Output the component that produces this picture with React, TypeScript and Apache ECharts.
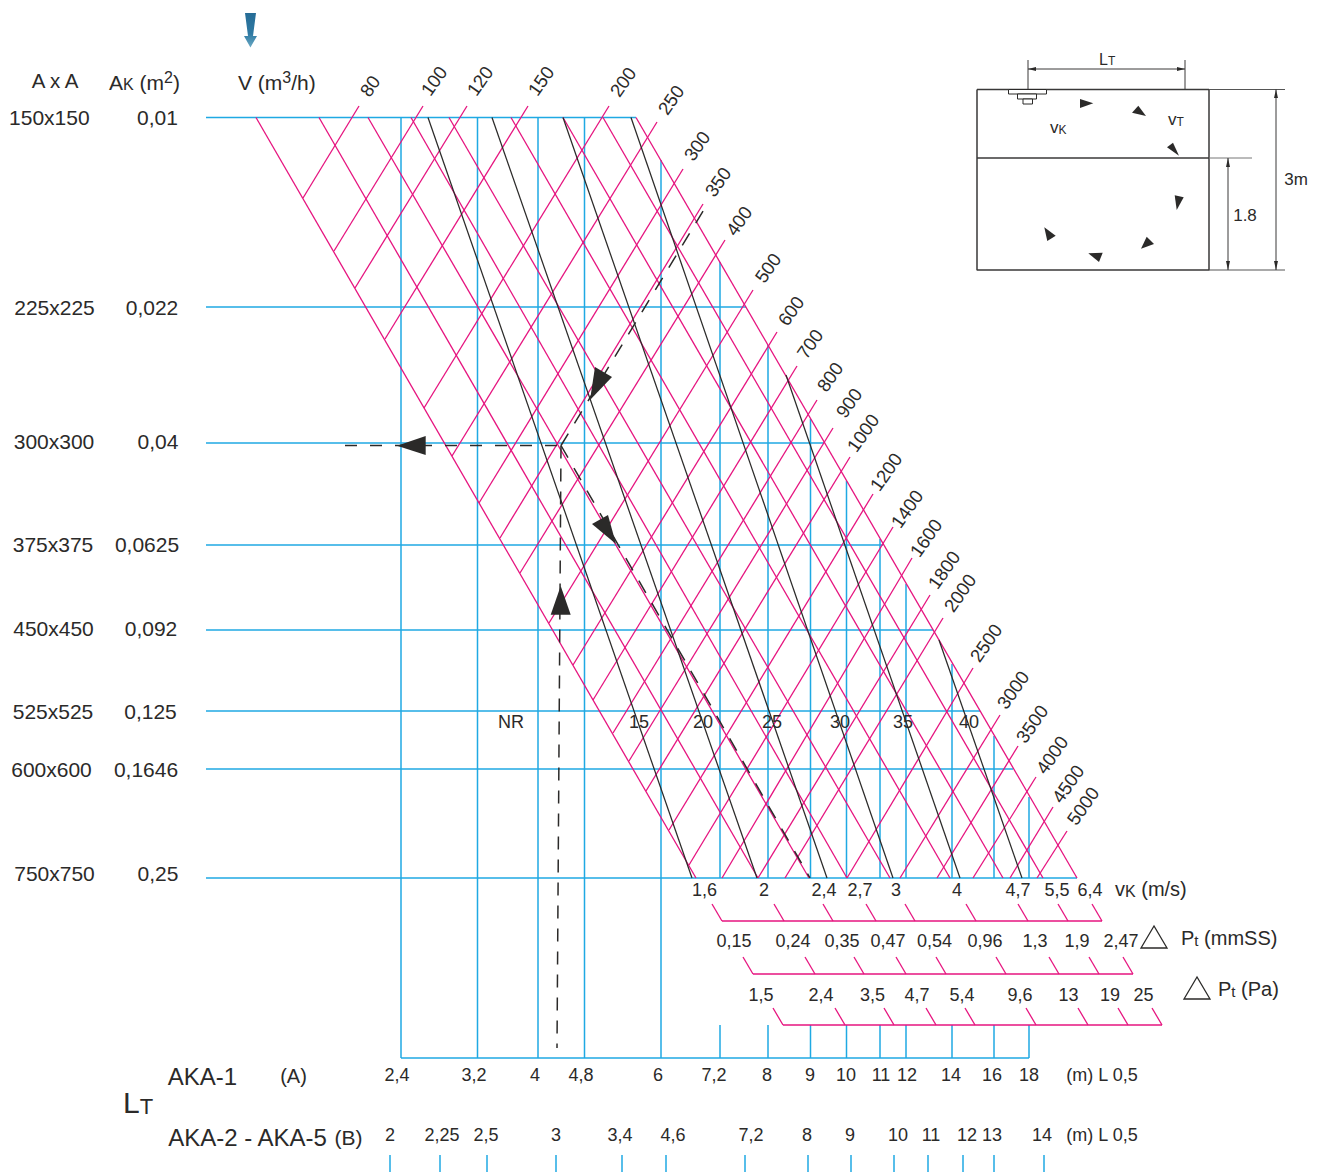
import React, { useEffect, useRef } from "react";
import * as echarts from "echarts";

// ---------- categories and tick labels ----------
const ductSizes = ["150x150", "225x225", "300x300", "375x375", "450x450", "525x525", "600x600", "750x750"];
const ductAreas = ["0,01", "0,022", "0,04", "0,0625", "0,092", "0,125", "0,1646", "0,25"];
const flowLabels = ["80", "100", "120", "150", "200", "250", "300", "350", "400", "500", "600", "700", "800", "900", "1000", "1200", "1400", "1600", "1800", "2000", "2500", "3000", "3500", "4000", "4500", "5000"];
const velocityLabels = ["1,6", "2", "2,4", "2,7", "3", "4", "4,7", "5,5", "6,4"];
const pressureMmLabels = ["0,15", "0,24", "0,35", "0,47", "0,54", "0,96", "1,3", "1,9", "2,47"];
const pressurePaLabels = ["1,5", "2,4", "3,5", "4,7", "5,4", "9,6", "13", "19", "25"];
const throwALabels = ["2,4", "3,2", "4", "4,8", "6", "7,2", "8", "9", "10", "11", "12", "14", "16", "18"];
const throwBLabels = ["2", "2,25", "2,5", "3", "3,4", "4,6", "7,2", "8", "9", "10", "11", "12", "13", "14"];
const noiseLabels = ["NR", "15", "20", "25", "30", "35", "40"];

// ---------- values, on the chart's two axes ----------
const levelY = [117.5, 307, 443, 545, 630, 711, 769, 878];
const levelEndX = [636, 746, 824, 883, 933, 980, 1013, 1077];
const velocityTopX = [256, 319, 368, 411, 449, 511, 563, 603, 636];
const velocityBottomX = [696, 758, 809, 847, 890, 950, 1003, 1043, 1077];
const flowTopX = [359, 423, 467, 528, 609, 657, 683, 703, 725, 753, 777, 797, 817, 833, 850, 873, 893, 912, 930, 943, 973, 1000, 1018, 1036, 1053, 1067];
const flowTopY = [106, 106, 106, 106, 106, 122, 169, 204, 240, 290, 332, 366, 400, 428, 457, 494, 527, 558, 595, 618, 668, 715, 746, 777, 807, 831];
const flowLowX = [303, 334, 355, 385, 424, 452, 479, 500, 520, 549, 573, 593, 613, 629, 646, 669, 689, 722, 758, 785, 847, 900, 937, 973, 1010, 1037];
const flowLowY = [198, 251, 288, 339, 408, 456, 503, 538, 573, 623, 665, 700, 733, 761, 791, 830, 865, 878, 878, 878, 878, 878, 878, 878, 878, 878];
const throwAX = [401, 477.5, 538, 584.5, 661, 720, 768, 810.5, 846.5, 880, 906, 952, 994, 1029];
const throwATopY = [117.5, 117.5, 117.5, 117.5, 160, 262, 345, 419, 481, 539, 584, 664, 736, 797];
const throwBX = [390, 440, 487, 556, 622, 666, 745, 808, 851, 894, 928, 963, 994, 1044];
const velocityTickX = [722, 784, 833, 876, 915, 976, 1028, 1068, 1102];
const pressureMmTickX = [753, 815, 864, 906, 946, 1006, 1059, 1099, 1133];
const pressurePaTickX = [783, 845, 894, 936, 975, 1036, 1088, 1128, 1162];
const noiseTopX = [428, 492, 563, 631, 786, 939];
const noiseTopY = [117.5, 117.5, 117.5, 117.5, 375, 640];
const noiseBottomX = [692, 757, 827, 893, 960, 1022];
const exampleFlowPath = [[561, 445.5], [708, 203]];
const exampleVelocityPath = [[561, 445.5], [810, 878]];
const exampleAreaPath = [[345, 445.5], [561, 445.5]];
const exampleThrowPath = [[561, 445.5], [557, 1048]];

const PINK = "#e6147f";
const BLUE = "#1fa9e3";
const INK = "#2b2a29";
const FONT = '"Liberation Sans", Arial, sans-serif';

const line = (points: number[][], color: string, width: number, dash?: number[]) => ({
  type: "line",
  data: points,
  symbol: "none",
  silent: true,
  animation: false,
  lineStyle: { color, width, type: dash || "solid", cap: "butt" },
  z: color === BLUE ? 1 : color === PINK ? 2 : 3,
});

const buildSeries = () => {
  const s: any[] = [];
  // blue area levels
  levelY.forEach((y, i) => s.push(line([[206, y], [levelEndX[i], y]], BLUE, 1.5)));
  // blue throw verticals
  throwAX.forEach((x, i) => {
    if (i < 5) s.push(line([[x, throwATopY[i]], [x, 1058]], BLUE, 1.5));
    else {
      s.push(line([[x, throwATopY[i]], [x, 878]], BLUE, 1.5));
      s.push(line([[x, 1025], [x, 1058]], BLUE, 1.5));
    }
  });
  s.push(line([[401, 1058], [1029, 1058]], BLUE, 1.5));
  throwBX.forEach((x) => s.push(line([[x, 1155], [x, 1172]], BLUE, 1.5)));
  // pink velocity lines
  velocityTopX.forEach((x, i) => s.push(line([[x, 117.5], [velocityBottomX[i], 878]], PINK, 1.3)));
  // pink flow lines
  flowTopX.forEach((x, i) => s.push(line([[flowLowX[i], flowLowY[i]], [x, flowTopY[i]]], PINK, 1.3)));
  // pink scales
  s.push(line([[722, 921], [1102, 921]], PINK, 1.4));
  velocityTickX.forEach((x) => s.push(line([[x, 921], [x - 10, 904]], PINK, 1.3)));
  s.push(line([[753, 974], [1133, 974]], PINK, 1.4));
  pressureMmTickX.forEach((x) => s.push(line([[x, 974], [x - 10, 957]], PINK, 1.3)));
  s.push(line([[783, 1025], [1162, 1025]], PINK, 1.4));
  pressurePaTickX.forEach((x) => s.push(line([[x, 1025], [x - 10, 1008]], PINK, 1.3)));
  // noise curves
  noiseTopX.forEach((x, i) => s.push(line([[x, noiseTopY[i]], [noiseBottomX[i], 878]], INK, 1.25)));
  // worked example
  s.push(line(exampleAreaPath, INK, 1.5, [12, 13]));
  s.push(line(exampleThrowPath, INK, 1.5, [13, 10]));
  s.push(line(exampleFlowPath, INK, 1.5, [14, 12]));
  s.push(line(exampleVelocityPath, INK, 1.5, [14, 12]));
  // room sketch
  const S = "#3a3938";
  s.push(line([[977, 89.5], [1209, 89.5], [1209, 270], [977, 270], [977, 89.5]], S, 1.5));
  s.push(line([[977, 158], [1209, 158]], S, 1.5));
  s.push(line([[1209, 158], [1252, 158]], "#777", 1));
  s.push(line([[1209, 89.5], [1285, 89.5]], "#555", 1));
  s.push(line([[1209, 270], [1285, 270]], "#555", 1));
  s.push(line([[1276, 89.5], [1276, 270]], S, 1));
  s.push(line([[1228, 158], [1228, 270]], S, 1));
  s.push(line([[1028, 60], [1028, 89]], S, 1));
  s.push(line([[1185, 60], [1185, 89]], S, 1));
  s.push(line([[1028, 69], [1185, 69]], S, 1));
  return s;
};

const txt = (text: string, x: number, y: number, size = 18, extra: any = {}) => ({
  type: "text",
  x,
  y,
  z: 10,
  silent: true,
  style: { text, fill: INK, font: `${size}px ${FONT}`, align: "center", verticalAlign: "middle", ...extra },
});

const sub = (text: string, x: number, y: number, big: number, small: number) => ({
  type: "text",
  x,
  y,
  z: 10,
  silent: true,
  style: {
    text,
    align: "left",
    verticalAlign: "middle",
    fill: INK,
    rich: {
      a: { font: `${big}px ${FONT}`, fill: INK, verticalAlign: "bottom", lineHeight: big + 2 },
      s: { font: `${small}px ${FONT}`, fill: INK, verticalAlign: "bottom", lineHeight: big + 2 },
      u: { font: `${small}px ${FONT}`, fill: INK, verticalAlign: "top", lineHeight: small },
    },
  },
});

const poly = (points: number[][], fill: any = INK) => ({
  type: "polygon",
  z: 9,
  silent: true,
  shape: { points },
  style: { fill },
});

const triOutline = (points: number[][]) => ({
  type: "polygon",
  z: 9,
  silent: true,
  shape: { points },
  style: { fill: "none", stroke: INK, lineWidth: 1.3 },
});

const box = (x: number, y: number, width: number, height: number) => ({
  type: "rect",
  z: 9,
  silent: true,
  shape: { x, y, width, height },
  style: { fill: "#fff", stroke: INK, lineWidth: 1 },
});

const sizeLabelPos = [[49.3, 117.3], [54.5, 307], [54, 441.5], [53, 544.7], [53.5, 628.3], [53, 711.7], [51.5, 769.7], [54.5, 873]];
const areaLabelPos = [[157.5, 117.3], [152, 307], [158, 441.5], [147, 544.7], [151, 628.3], [150.5, 711.7], [146, 769.7], [158, 873]];
const flowLabelPos = [[370, 86], [434, 81], [480, 81], [541, 81], [623, 82], [671, 100], [697, 146], [718, 182], [739, 221], [768, 268], [791, 311], [810, 344], [830, 377], [849, 403], [863, 433], [886, 472], [907, 509], [926, 538], [944, 570], [960, 593], [986, 643], [1013, 690], [1032, 724], [1052, 755], [1068, 784], [1083, 806]];
const velocityLabelX = [704.5, 764, 824, 860, 896, 957, 1018, 1057, 1090];
const mmLabelX = [734, 793, 842, 888, 934.5, 985, 1035, 1077, 1121];
const paLabelX = [761, 821, 872.5, 917, 962, 1020, 1068.5, 1110, 1143.6];
const throwALabelX = [397, 474, 535, 581, 658, 714, 767, 810, 846, 881, 907, 951, 992, 1029];
const throwBLabelX = [390, 442, 486, 556, 620, 673, 751, 807, 850, 898, 931, 967, 992, 1042];
const noiseLabelX = [511, 639, 703, 772, 840, 903, 969];

const buildGraphics = () => {
  const g: any[] = [];
  g.push(txt("A x A", 55, 80.5, 20.5));
  g.push(sub("{a|A}{s|K}{a| (m}{u|2}{a|)}", 109, 81, 21, 16));
  g.push(sub("{a|V (m}{u|3}{a|/h)}", 238, 81, 21, 16));
  ductSizes.forEach((t, i) => g.push(txt(t, sizeLabelPos[i][0], sizeLabelPos[i][1], 21)));
  ductAreas.forEach((t, i) => g.push(txt(t, areaLabelPos[i][0], areaLabelPos[i][1], 21)));
  flowLabels.forEach((t, i) =>
    g.push({ ...txt(t, flowLabelPos[i][0], flowLabelPos[i][1], 18.5), rotation: (55 * Math.PI) / 180 })
  );
  noiseLabels.forEach((t, i) => g.push(txt(t, noiseLabelX[i], 722, 18)));
  velocityLabels.forEach((t, i) => g.push(txt(t, velocityLabelX[i], 890, 18)));
  pressureMmLabels.forEach((t, i) => g.push(txt(t, mmLabelX[i], 941, 18)));
  pressurePaLabels.forEach((t, i) => g.push(txt(t, paLabelX[i], 995, 18)));
  throwALabels.forEach((t, i) => g.push(txt(t, throwALabelX[i], 1075, 18)));
  throwBLabels.forEach((t, i) => g.push(txt(t, throwBLabelX[i], 1135, 18)));
  g.push(sub("{a|v}{s|K}{a| (m/s)}", 1115, 888, 20, 16));
  g.push(sub("{a|P}{s|t}{a| (mmSS)}", 1181, 936.5, 20, 15));
  g.push(sub("{a|P}{s|t}{a| (Pa)}", 1218, 987.5, 20, 15));
  g.push(txt("(m) L 0,5", 1102, 1075, 18));
  g.push(txt("(m) L 0,5", 1102, 1135, 18));
  g.push(txt("AKA-1", 202.5, 1076, 24));
  g.push(txt("(A)", 293.5, 1076, 20));
  g.push(txt("AKA-2 - AKA-5", 247.5, 1137, 24));
  g.push(txt("(B)", 348.5, 1137, 21));
  g.push(sub("{a|L}{s|T}", 123, 1101, 30, 22));
  // inset text
  g.push(sub("{a|L}{s|T}", 1099, 58, 16, 12));
  g.push(sub("{a|v}{s|K}", 1050, 126, 17, 12));
  g.push(sub("{a|v}{s|T}", 1168, 118, 17, 12));
  g.push(txt("3m", 1296, 179, 17));
  g.push(txt("1.8", 1245, 215, 17));
  // arrows and marks
  g.push(
    poly(
      [[245, 13], [256, 13], [253, 36], [257, 36], [250.4, 47.5], [244, 36], [248, 36]],
      new echarts.graphic.LinearGradient(0, 0, 0, 1, [
        { offset: 0, color: "#266c96" },
        { offset: 0.6, color: "#2f7aa3" },
        { offset: 1, color: "#6aa9c4" },
      ])
    )
  );
  g.push(poly([[397, 445.7], [425.7, 436], [425.7, 455]]));
  g.push(poly([[560.7, 586], [550.7, 614.7], [570.7, 614.7]]));
  g.push(poly([[590, 400], [595, 367], [612, 377]]));
  g.push(poly([[616, 544], [592, 524], [608, 515]]));
  g.push(triOutline([[1154, 926], [1141, 948], [1167, 948]]));
  g.push(triOutline([[1197, 977], [1184, 999], [1210, 999]]));
  // inset marks
  g.push(poly([[1080, 99], [1093.3, 103.3], [1080, 108]]));
  g.push(poly([[1138.3, 105.7], [1146, 116], [1132, 112.7]]));
  g.push(poly([[1173, 142.7], [1179, 155.7], [1167, 147.3]]));
  g.push(poly([[1174.7, 195.3], [1183.7, 197.3], [1176.7, 210]]));
  g.push(poly([[1154, 244], [1146.7, 236.7], [1141, 248.7]]));
  g.push(poly([[1102.7, 252.7], [1088.3, 253.3], [1099, 262]]));
  g.push(poly([[1044.3, 227.3], [1055.7, 235.7], [1047.3, 241]]));
  g.push(box(1008.5, 89.5, 38, 4.5));
  g.push(box(1017.5, 94, 19, 5));
  g.push(box(1023, 99, 9.5, 5));
  // dimension arrowheads
  g.push(poly([[1028, 69], [1036, 67], [1036, 71]]));
  g.push(poly([[1185, 69], [1177, 67], [1177, 71]]));
  g.push(poly([[1276, 89.5], [1274, 98], [1278, 98]]));
  g.push(poly([[1276, 270], [1274, 261], [1278, 261]]));
  g.push(poly([[1228, 158], [1226, 167], [1230, 167]]));
  g.push(poly([[1228, 270], [1226, 261], [1230, 261]]));
  return g;
};

export default function App() {
  const ref = useRef<HTMLDivElement>(null);
  useEffect(() => {
    const chart = echarts.init(ref.current!, undefined, { renderer: "svg" });
    chart.setOption({
      animation: false,
      backgroundColor: "#fff",
      tooltip: { show: false },
      legend: { show: false },
      grid: { left: 0, top: 0, right: 0, bottom: 0, containLabel: false },
      xAxis: { type: "value", min: 0, max: 1319, show: false },
      yAxis: { type: "value", min: 0, max: 1172, inverse: true, show: false },
      series: buildSeries(),
      graphic: { elements: buildGraphics() },
    });
    return () => chart.dispose();
  }, []);
  return <div ref={ref} style={{ position: "absolute", left: 0, top: 0, width: 1319, height: 1172 }} />;
}
